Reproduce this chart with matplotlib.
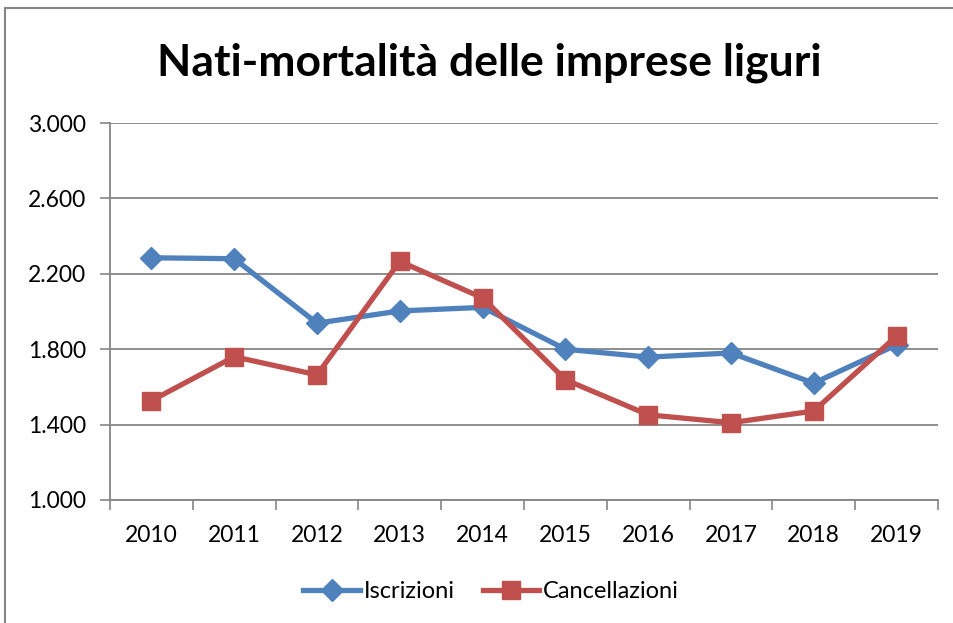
import matplotlib.pyplot as plt
from matplotlib.patches import Rectangle
from matplotlib.ticker import FuncFormatter

plt.rcParams['font.family'] = ['Lato', 'DejaVu Sans']

anni = ['2010', '2011', '2012', '2013', '2014', '2015', '2016', '2017', '2018', '2019']
iscrizioni = [2285, 2280, 1938, 2003, 2022, 1800, 1758, 1780, 1620, 1823]
cancellazioni = [1527, 1760, 1664, 2266, 2072, 1638, 1452, 1410, 1472, 1870]

blu = '#4F81BD'
rosso = '#C0504D'
grigio = '#868686'

fig = plt.figure(figsize=(9.54, 6.23), dpi=100)
ax = fig.add_axes([110/954, 1-500/623, (938-110)/954, (500-123)/623])

# bordo esterno del grafico
fig.patches.append(Rectangle((5/954, -0.05), 1.0, 1-8/623+0.05, transform=fig.transFigure,
                             fill=False, edgecolor=grigio, linewidth=1.5))

x = range(len(anni))
ax.plot(x, iscrizioni, color=blu, linewidth=3.8, marker='D', markersize=11,
        label='Iscrizioni', solid_joinstyle='round')
ax.plot(x, cancellazioni, color=rosso, linewidth=3.8, marker='s', markersize=13,
        label='Cancellazioni', solid_joinstyle='round')

ax.set_xlim(-0.5, 9.5)
ax.set_ylim(1000, 3000)
ax.set_yticks(range(1000, 3001, 400))
ax.yaxis.set_major_formatter(FuncFormatter(lambda v, p: f'{int(v):,}'.replace(',', '.')))
ax.set_xticks(list(x))
ax.set_xticklabels(anni)
ax.set_xticks([i + 0.5 for i in range(-1, 10)], minor=True)
ax.tick_params(axis='x', which='major', length=0, labelsize=16.5, pad=18)
ax.tick_params(axis='x', which='minor', length=7, width=1.2, color=grigio, direction='out')
ax.tick_params(axis='y', length=7, width=1.2, color=grigio, labelsize=16.5, pad=10)

ax.grid(axis='y', color=grigio, linewidth=1.3)
ax.set_axisbelow(True)
for s in ['top', 'right']:
    ax.spines[s].set_visible(False)
for s in ['left', 'bottom']:
    ax.spines[s].set_color(grigio)
    ax.spines[s].set_linewidth(1.3)

fig.text(489/954, 1-63/623, 'Nati-mortalità delle imprese liguri', ha='center', va='center',
         fontsize=32, fontweight='bold')

fig.legend(loc='center', bbox_to_anchor=(491/954, 1-592/623), ncol=2, frameon=False,
           fontsize=17, handlelength=2.4, columnspacing=1.2, handletextpad=0.15)

fig.savefig('out.png', dpi=100)
